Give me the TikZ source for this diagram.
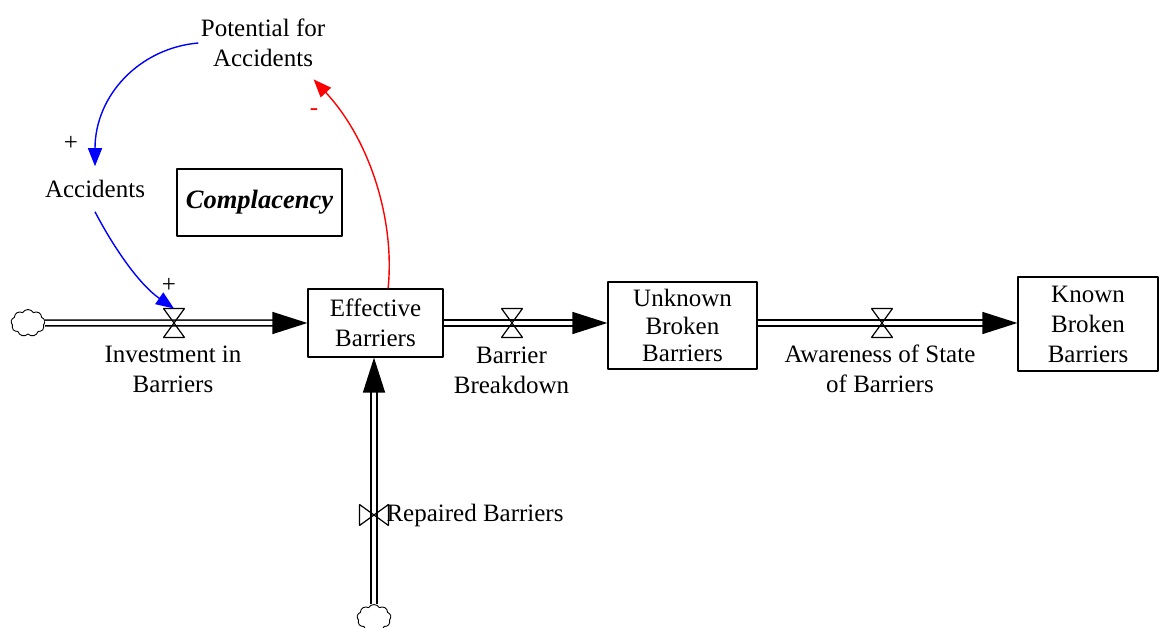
\documentclass[tikz,border=0pt]{standalone}
\usepackage{fontspec}
\setmainfont{Liberation Serif}
\usetikzlibrary{arrows.meta,shapes.symbols,calc}

\begin{document}
\begin{tikzpicture}[line join=bevel,
  txt/.style={inner sep=2bp,align=center,font=\fontsize{25bp}{30bp}\selectfont},
  stock/.style={txt,draw,line width=1.3bp},
  valve/.style={minimum width=20bp,minimum height=28bp,inner sep=0pt},
  valvev/.style={minimum width=28bp,minimum height=20bp,inner sep=0pt},
  valveline/.style={line width=1.2bp},
  srccloud/.style={shape=cloud,draw,cloud puffs=9,cloud puff arc=120,aspect=1.3,
    minimum width=34bp,minimum height=27bp,inner sep=0pt,line width=0.9bp},
  pipe/.style={double,double distance=4bp,line width=1.6bp,
    -{Triangle[length=35bp,width=22bp]}},
  link/.style={line width=1.4bp,-{Triangle[length=18bp,width=14bp]}},
  sign/.style={inner sep=0pt,font=\fontsize{25bp}{25bp}\selectfont}]
  \useasboundingbox (0bp,0bp) rectangle (1160bp,628bp);
  \pgfsetlinewidth{1bp}
%%
  % Node: Potential for Accidents
  \node[txt] (pot) at (263bp,585bp) {Potential for\\Accidents};
  % Node: Accidents
  \node[txt,outer sep=12bp] (acc) at (95bp,439bp) {Accidents};
  % Node: Complacency
  \node[draw,line width=1.3bp,minimum width=165bp,minimum height=67bp,
    font=\fontsize{26.5bp}{30bp}\selectfont] (comp) at (259.5bp,425.5bp)
    {\textbf{\textit{Complacency}}};
  % Node: stocks
  \node[stock,minimum width=135bp,minimum height=68bp] (eff) at (375.5bp,305bp) {Effective\\Barriers};
  \node[stock,minimum width=149bp,minimum height=87bp,
    font=\fontsize{25bp}{27.5bp}\selectfont] (unk) at (682.5bp,302.5bp) {Unknown\\Broken\\Barriers};
  \node[stock,minimum width=140bp,minimum height=94bp] (known) at (1088bp,304bp) {Known\\Broken\\Barriers};
  % Node: clouds
  \node[srccloud] (cloudInv) at (28bp,305bp) {};
  \node[srccloud] (cloudRep) at (374bp,10bp) {};
  % Node: valves
  \node[valve] (vInv) at (174bp,305bp) {};
  \node[valve] (vBrk) at (512bp,305bp) {};
  \node[valve] (vAwr) at (882bp,305bp) {};
  \node[valvev] (vRep) at (374bp,113bp) {};
  % Node: flow names
  \node[txt] (labInv) at (173bp,259bp) {Investment in\\Barriers};
  \node[txt] (labBrk) at (511.5bp,258bp) {Barrier\\Breakdown};
  \node[txt] (labAwr) at (880bp,259bp) {Awareness of State\\of Barriers};
  \node[txt,anchor=west,inner sep=0pt] (labRep) at (386bp,113bp) {Repaired Barriers};
%%
  % Edge: cloudInv -> eff
  \draw[pipe] (cloudInv.east) -- (eff.west);
  % Edge: eff -> unk
  \draw[pipe] (eff.east) -- (eff.east -| unk.west);
  % Edge: unk -> known
  \draw[pipe] (unk.east |- eff.east) -- (eff.east -| known.west);
  % Edge: cloudRep -> eff
  \draw[pipe] (cloudRep.north) -- (cloudRep.north |- eff.south);
  % Valves
  \draw[valveline] (vInv.north west) -- (vInv.south east) -- (vInv.south west) -- (vInv.north east) -- cycle;
  \draw[valveline] (vBrk.north west) -- (vBrk.south east) -- (vBrk.south west) -- (vBrk.north east) -- cycle;
  \draw[valveline] (vAwr.north west) -- (vAwr.south east) -- (vAwr.south west) -- (vAwr.north east) -- cycle;
  \draw[valveline] (vRep.north west) -- (vRep.south west) -- (vRep.north east) -- (vRep.south east) -- cycle;
%%
  % Edge: pot -> acc
  \draw[link,blue] (pot.west) .. controls (140bp,580bp) and (95bp,533bp) .. (acc.north);
  \node[sign] (sPot) at (71bp,485bp) {+};
  % Edge: acc -> vInv
  \draw[link,blue] (acc.south) .. controls (115bp,378bp) and (140bp,343bp) .. (vInv.north);
  \node[sign] (sAcc) at (169bp,343bp) {+};
  % Edge: eff -> pot
  \draw[link,red] (eff.70) .. controls (395bp,408bp) and (370bp,488bp) .. ($(pot.south east)+(-14bp,-10bp)$);
  \node[sign,red] (sEff) at (314bp,516bp) {-};
%
\end{tikzpicture}
\end{document}
